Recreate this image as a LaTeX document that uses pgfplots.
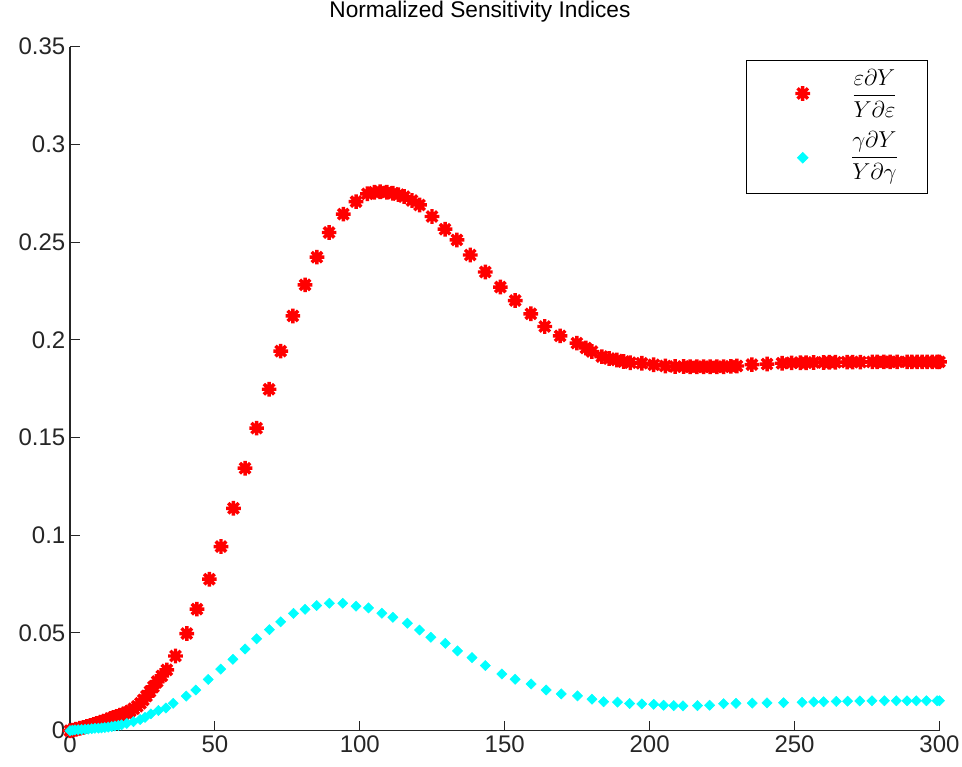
\documentclass[border=0pt]{standalone}
\usepackage{fontspec}
\setmainfont{Liberation Sans}
\usepackage{pgfplots}
\pgfplotsset{compat=1.18}

\definecolor{mred}{RGB}{255,0,0}
\definecolor{mcyan}{RGB}{0,255,255}

% MATLAB style '*' marker: plus and cross
\pgfdeclareplotmark{matast}{%
  \pgfpathmoveto{\pgfqpoint{-\pgfplotmarksize}{0pt}}%
  \pgfpathlineto{\pgfqpoint{\pgfplotmarksize}{0pt}}%
  \pgfpathmoveto{\pgfqpoint{0pt}{-\pgfplotmarksize}}%
  \pgfpathlineto{\pgfqpoint{0pt}{\pgfplotmarksize}}%
  \pgfpathmoveto{\pgfqpoint{-.707\pgfplotmarksize}{-.707\pgfplotmarksize}}%
  \pgfpathlineto{\pgfqpoint{.707\pgfplotmarksize}{.707\pgfplotmarksize}}%
  \pgfpathmoveto{\pgfqpoint{-.707\pgfplotmarksize}{.707\pgfplotmarksize}}%
  \pgfpathlineto{\pgfqpoint{.707\pgfplotmarksize}{-.707\pgfplotmarksize}}%
  \pgfusepathqstroke}

\begin{document}
\begin{tikzpicture}
\begin{axis}[
    name=ax,
    scale only axis,
    width=652.1pt, height=513pt,
    xmin=0, xmax=300,
    ymin=0, ymax=0.35,
    xtick={0,50,...,300},
    ytick={0,0.05,0.1,0.15,0.2,0.25,0.3,0.35},
    axis lines*=left,
    tick align=inside,
    major tick length=7.5pt,
    axis line style={line width=0.8pt, black!85},
    every tick/.style={line width=0.8pt, black!85},
    tick label style={font=\fontsize{18}{21}\selectfont, text=black!85},
    /pgf/number format/assume math mode=true,
    yticklabel style={/pgf/number format/fixed, /pgf/number format/precision=2},
    title={Normalized Sensitivity Indices},
    title style={font=\fontsize{17}{20}\selectfont, at={(axis description cs:0.4715,1)},
                 anchor=base, yshift=15.5pt},
    clip=false,
    legend style={at={(axis description cs:0.9868,0.9806)}, anchor=north east,
                  draw=black, line width=0.8pt, inner xsep=0pt, inner ysep=5pt,
                  row sep=7pt, font=\fontsize{17}{20}\selectfont,
                  nodes={text depth=}},
    legend image code/.code={%
      \path[draw=none, fill=none] (0pt,0pt) -- (76pt,0pt);
      \draw[#1] plot coordinates {(42pt,0pt)};},
]
\addplot[only marks, mark=matast, mark size=5.5pt, mred,
         mark options={line width=2.6pt, mred}] coordinates {
(0,0)(1,0.0003)(2,0.0007)(3.4,0.0012)(4.6,0.0017)(5.8,0.0022)(7,0.0027)
(8.2,0.0032)(9.2,0.0037)(10.5,0.0043)(11.6,0.0049)(12.7,0.0055)(14,0.0062)
(15,0.0067)(16.1,0.0073)(17.2,0.0079)(18.4,0.0085)(19.6,0.0092)(20.8,0.0101)
(22.0,0.0112)(23.2,0.0125)(24.3,0.0140)(25.3,0.0157)(26.4,0.0177)(27.6,0.0200)
(28.8,0.0224)(30.1,0.0251)(31.7,0.0280)(33.4,0.0311)(36.4,0.0382)(40.3,0.0497)
(43.8,0.0622)(48.1,0.0775)(52.1,0.0942)(56.4,0.1138)(60.4,0.1343)(64.4,0.1548)
(68.7,0.1747)(72.7,0.1942)(76.9,0.2122)(81.1,0.2281)(85.2,0.2423)(89.4,0.2549)
(94.3,0.2643)(98.7,0.2707)(102.6,0.2747)(105,0.2755)(107,0.2758)(109.3,0.2755)
(111.4,0.2750)(113.3,0.2743)(115.3,0.2733)(118,0.2713)(120.6,0.2690)
(124.9,0.2631)(129.4,0.2566)(133.5,0.2511)(138.1,0.2434)(143.3,0.2347)
(148.5,0.2270)(153.6,0.2201)(159.0,0.2133)(163.8,0.2068)(169.1,0.2020)
(174.9,0.1983)(178,0.1958)(180.1,0.1940)(183.5,0.1914)(186,0.1904)
(188.7,0.1897)(191,0.1889)(193.3,0.1883)(197.3,0.1880)(201.4,0.1872)
(205.4,0.1866)(208.8,0.1863)(211.7,0.1863)(214,0.1862)(216.3,0.1862)
(218.6,0.1862)(220.9,0.1862)(223.2,0.1862)(225.5,0.1862)(228,0.1864)
(230.1,0.1866)(235.3,0.1873)(240.5,0.1876)(245.7,0.1880)(249,0.1882)
(252.0,0.1883)(254,0.1883)(256.6,0.1884)(260.0,0.1884)(262,0.1885)
(264.1,0.1885)(268.1,0.1886)(270,0.1886)(272.7,0.1886)(276.8,0.1887)
(278.5,0.1887)(280.8,0.1887)(283,0.1887)(285.4,0.1887)(288.8,0.1887)
(290.5,0.1887)(292.3,0.1887)(294,0.1887)(295.7,0.1887)(297.5,0.1887)
(299.2,0.1887)(300,0.1887)
};
\addlegendentry{$\displaystyle\frac{\varepsilon\partial Y}{Y\partial\varepsilon}$\kern20pt}

\addplot[only marks, mark=square*, mark size=2.7pt, mcyan,
         mark options={rotate=45, draw=mcyan, fill=mcyan}] coordinates {
(0,0)(0.8,0.0002)(1.7,0.0004)(2.8,0.0005)(4.0,0.0006)(5.2,0.0007)(6.3,0.0008)
(7.5,0.0010)(8.6,0.0012)(9.8,0.0013)(10.9,0.0014)(12,0.0016)(13.2,0.0018)
(14.4,0.0021)(15.5,0.0024)(16.7,0.0027)(17.8,0.0030)(19.6,0.0037)(21.9,0.0046)
(24.2,0.0057)(25.9,0.0068)(27.9,0.0086)(30.5,0.0103)(33.1,0.0116)(35.6,0.0140)
(40.1,0.0177)(43.4,0.0208)(47.7,0.0262)(52.0,0.0315)(56.2,0.0365)(60.4,0.0418)
(64.4,0.0470)(68.8,0.0517)(72.7,0.0557)(77.1,0.0600)(81.1,0.0621)(85.1,0.0640)
(89.5,0.0652)(94.1,0.0652)(98.7,0.0637)(103.0,0.0628)(107.6,0.0601)
(111.4,0.0580)(116.4,0.0550)(120.6,0.0515)(124.5,0.0478)(129.5,0.0447)
(133.7,0.0408)(138.7,0.0374)(143.3,0.0333)(149.0,0.0290)(153.6,0.0263)
(159.1,0.0239)(164.3,0.0208)(169.5,0.0188)(175.1,0.0178)(180.1,0.0161)
(184.1,0.0148)(188.9,0.0146)(193.1,0.0139)(197.3,0.0137)(201.4,0.0135)
(204.8,0.0130)(208.3,0.0128)(211.5,0.0127)(216.5,0.0128)(220.7,0.0130)
(225.5,0.0138)(229.8,0.0140)(235.4,0.0141)(240.5,0.0142)(246.2,0.0143)
(252.6,0.0145)(256.6,0.0147)(260.0,0.0148)(264.4,0.0150)(268.3,0.0151)
(272.5,0.0152)(276.7,0.0153)(281.0,0.0153)(285.1,0.0153)(288.8,0.0153)
(292.0,0.0153)(295.5,0.0153)(299.2,0.0153)(300,0.0153)
};
\addlegendentry{$\displaystyle\frac{\gamma\partial Y}{Y\partial\gamma}$\kern20pt}
\end{axis}
\pgfresetboundingbox
\path ([shift={(-52.5pt,-27.2pt)}]ax.south west) rectangle ([shift={(16.9pt,35pt)}]ax.north east);
\end{tikzpicture}
\end{document}
